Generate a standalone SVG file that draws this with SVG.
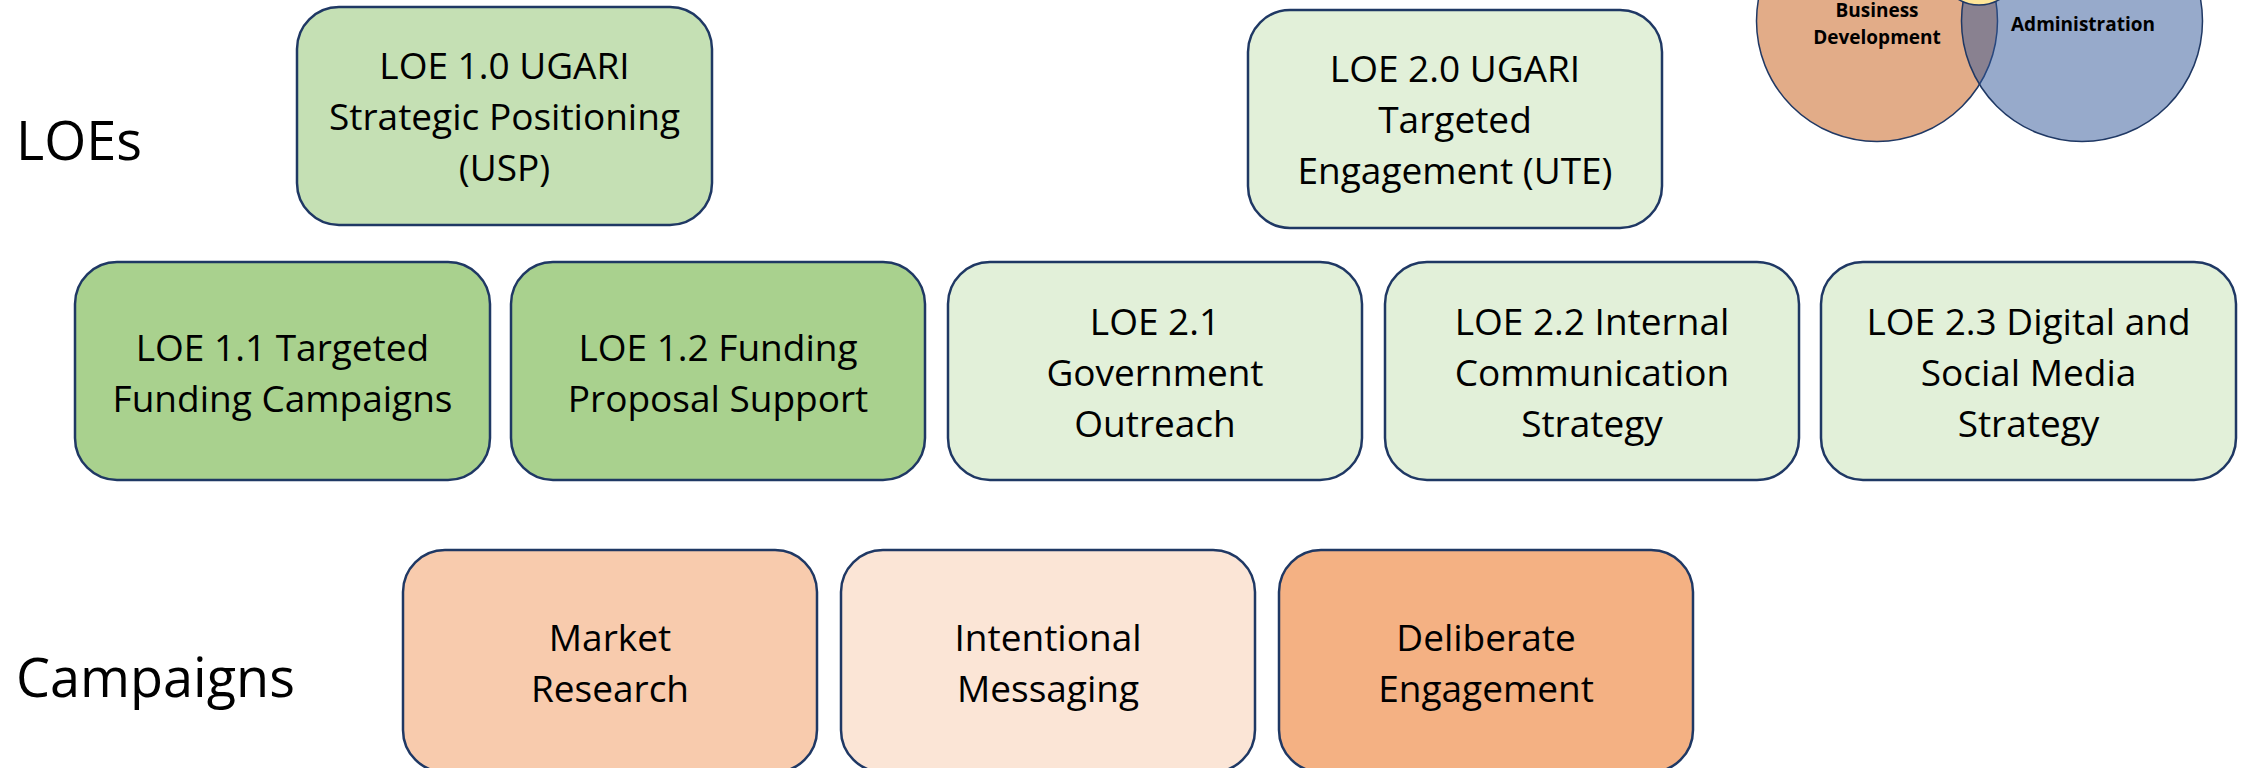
<svg xmlns="http://www.w3.org/2000/svg" width="2246" height="768" viewBox="0 0 2246 768">
<style>
.box{stroke:#1F3864;stroke-width:2.5}
.t{font-family:"Open Sans","Noto Sans",sans-serif;font-size:37px;fill:#000;text-anchor:middle}
.lbl{font-family:"Open Sans","Noto Sans",sans-serif;font-size:54px;fill:#000}
.v{font-family:"Open Sans","Noto Sans",sans-serif;font-size:19px;font-weight:bold;fill:#000;text-anchor:middle}
.vc{stroke:#1F3864;stroke-width:1.5}
</style>
<rect width="2246" height="768" fill="#fff"/>
<g id="venn">
<circle class="vc" cx="1877" cy="21" r="120.5" fill="#C55A11" fill-opacity="0.5"/>
<circle class="vc" cx="2082" cy="21" r="120.5" fill="#2F5597" fill-opacity="0.5"/>
<circle class="vc" cx="1979" cy="-35" r="40" fill="#FFE699"/>
<text class="v" x="1877" y="17">Business</text>
<text class="v" x="1877" y="44">Development</text>
<text class="v" x="2083" y="31">Administration</text>
</g>
<g id="label-loes"><text class="lbl" x="16" y="160">LOEs</text></g>
<g id="label-campaigns"><text class="lbl" x="16" y="697">Campaigns</text></g>
<g id="connectors"></g>
<g id="loe10">
<rect class="box" x="297" y="7" width="415" height="218" rx="42" fill="#C5E0B4"/>
<text class="t" x="504.5" y="79">LOE 1.0 UGARI</text>
<text class="t" x="504.5" y="130">Strategic Positioning</text>
<text class="t" x="504.5" y="181">(USP)</text>
</g>
<g id="loe20">
<rect class="box" x="1248" y="10" width="414" height="218" rx="42" fill="#E2F0D9"/>
<text class="t" x="1455" y="82">LOE 2.0 UGARI</text>
<text class="t" x="1455" y="133">Targeted</text>
<text class="t" x="1455" y="184">Engagement (UTE)</text>
</g>
<g id="loe11">
<rect class="box" x="75" y="262" width="415" height="218" rx="42" fill="#A9D18E"/>
<text class="t" x="282.5" y="361">LOE 1.1 Targeted</text>
<text class="t" x="282.5" y="412">Funding Campaigns</text>
</g>
<g id="loe12">
<rect class="box" x="511" y="262" width="414" height="218" rx="42" fill="#A9D18E"/>
<text class="t" x="718" y="361">LOE 1.2 Funding</text>
<text class="t" x="718" y="412">Proposal Support</text>
</g>
<g id="loe21">
<rect class="box" x="948" y="262" width="414" height="218" rx="42" fill="#E2F0D9"/>
<text class="t" x="1155" y="335">LOE 2.1</text>
<text class="t" x="1155" y="386">Government</text>
<text class="t" x="1155" y="437">Outreach</text>
</g>
<g id="loe22">
<rect class="box" x="1385" y="262" width="414" height="218" rx="42" fill="#E2F0D9"/>
<text class="t" x="1592" y="335">LOE 2.2 Internal</text>
<text class="t" x="1592" y="386">Communication</text>
<text class="t" x="1592" y="437">Strategy</text>
</g>
<g id="loe23">
<rect class="box" x="1821" y="262" width="415" height="218" rx="42" fill="#E2F0D9"/>
<text class="t" x="2028.5" y="335">LOE 2.3 Digital and</text>
<text class="t" x="2028.5" y="386">Social Media</text>
<text class="t" x="2028.5" y="437">Strategy</text>
</g>
<g id="market">
<rect class="box" x="403" y="550" width="414" height="222" rx="42" fill="#F8CBAD"/>
<text class="t" x="610" y="651">Market</text>
<text class="t" x="610" y="702">Research</text>
</g>
<g id="intentional">
<rect class="box" x="841" y="550" width="414" height="222" rx="42" fill="#FBE5D6"/>
<text class="t" x="1048" y="651">Intentional</text>
<text class="t" x="1048" y="702">Messaging</text>
</g>
<g id="deliberate">
<rect class="box" x="1279" y="550" width="414" height="222" rx="42" fill="#F4B183"/>
<text class="t" x="1486" y="651">Deliberate</text>
<text class="t" x="1486" y="702">Engagement</text>
</g>
</svg>
